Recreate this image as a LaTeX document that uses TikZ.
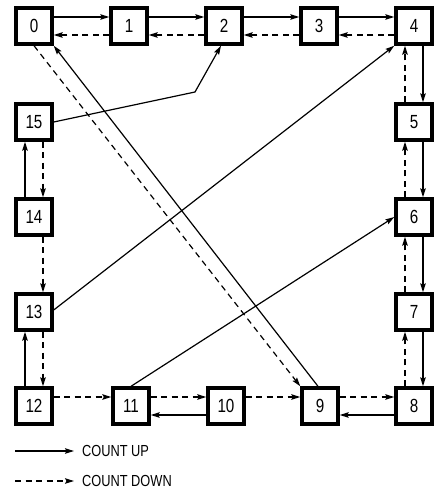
\documentclass[tikz,border=0pt]{standalone}
\usepackage{fontspec}
\setmainfont{Liberation Sans}[FakeStretch=0.8]
\usetikzlibrary{arrows.meta}
\begin{document}
\begin{tikzpicture}[x=1pt,y=-1pt,
  cbox/.style={draw,line width=3.4pt,minimum size=36pt,inner sep=0pt,font=\fontsize{19}{21}\selectfont},
  up/.style={line width=1.2pt,-{Stealth[length=9pt,width=5.5pt,inset=1.5pt]}},
  down/.style={up,dash pattern=on 6pt off 4.5pt},
  lbl/.style={anchor=west,inner sep=0pt,font=\fontsize{16}{18}\selectfont}]
\useasboundingbox (0,0) rectangle (438,491);
% nodes
\node[cbox] (n0) at (34,26) {0};
\node[cbox] (n1) at (129,26) {1};
\node[cbox] (n2) at (224,26) {2};
\node[cbox] (n3) at (319,26) {3};
\node[cbox] (n4) at (414,26) {4};
\node[cbox] (n5) at (414,122) {5};
\node[cbox] (n6) at (414,217) {6};
\node[cbox] (n7) at (414,312) {7};
\node[cbox] (n8) at (414,406) {8};
\node[cbox] (n9) at (320,406) {9};
\node[cbox] (n10) at (226,406) {10};
\node[cbox] (n11) at (131,406) {11};
\node[cbox] (n12) at (34,406) {12};
\node[cbox] (n13) at (34,312) {13};
\node[cbox] (n14) at (34,217) {14};
\node[cbox] (n15) at (34,122) {15};
% top row
\foreach \a/\b in {n0/n1,n1/n2,n2/n3,n3/n4}{
  \draw[up] ([yshift=9pt]\a.east) -- ([yshift=9pt]\b.west);
  \draw[down] ([yshift=-9pt]\b.west) -- ([yshift=-9pt]\a.east);
}
% right column
\foreach \a/\b in {n4/n5,n5/n6,n6/n7,n7/n8}{
  \draw[up] ([xshift=9pt]\a.south) -- ([xshift=9pt]\b.north);
  \draw[down] ([xshift=-9pt]\b.north) -- ([xshift=-9pt]\a.south);
}
% bottom row
\foreach \a/\b in {n12/n11,n11/n10,n10/n9,n9/n8}{
  \draw[down] ([yshift=9pt]\a.east) -- ([yshift=9pt]\b.west);
}
\draw[up] ([yshift=-9pt]n10.west) -- ([yshift=-9pt]n11.east);
\draw[up] ([yshift=-9pt]n8.west) -- ([yshift=-9pt]n9.east);
% left column
\foreach \a/\b in {n15/n14,n14/n13,n13/n12}{
  \draw[down] ([xshift=9pt]\a.south) -- ([xshift=9pt]\b.north);
}
\draw[up] ([xshift=-9pt]n12.north) -- ([xshift=-9pt]n13.south);
\draw[up] ([xshift=-9pt]n14.north) -- ([xshift=-9pt]n15.south);
% diagonals
\draw[up] ([xshift=-2pt]n9.north) -- (n0.south east);
\draw[down] (n0.south) -- (n9.north west);
\coordinate (bend) at (195,92);
\draw[up] (n15.east) -- (bend) -- ([xshift=-3pt]n2.south);
\draw[up] ([yshift=2pt]n13.east) -- (n4.south west);
\draw[up] (n11.north) -- (n6.west);
% legend
\coordinate (lu1) at (15,451);
\coordinate (lu2) at (74,451);
\coordinate (ld1) at (15,481);
\coordinate (ld2) at (74,481);
\node[lbl] (tu) at (82,451) {COUNT UP};
\node[lbl] (td) at (82,481) {COUNT DOWN};
\draw[up] (lu1) -- (lu2);
\draw[down] (ld1) -- (ld2);
\end{tikzpicture}
\end{document}
